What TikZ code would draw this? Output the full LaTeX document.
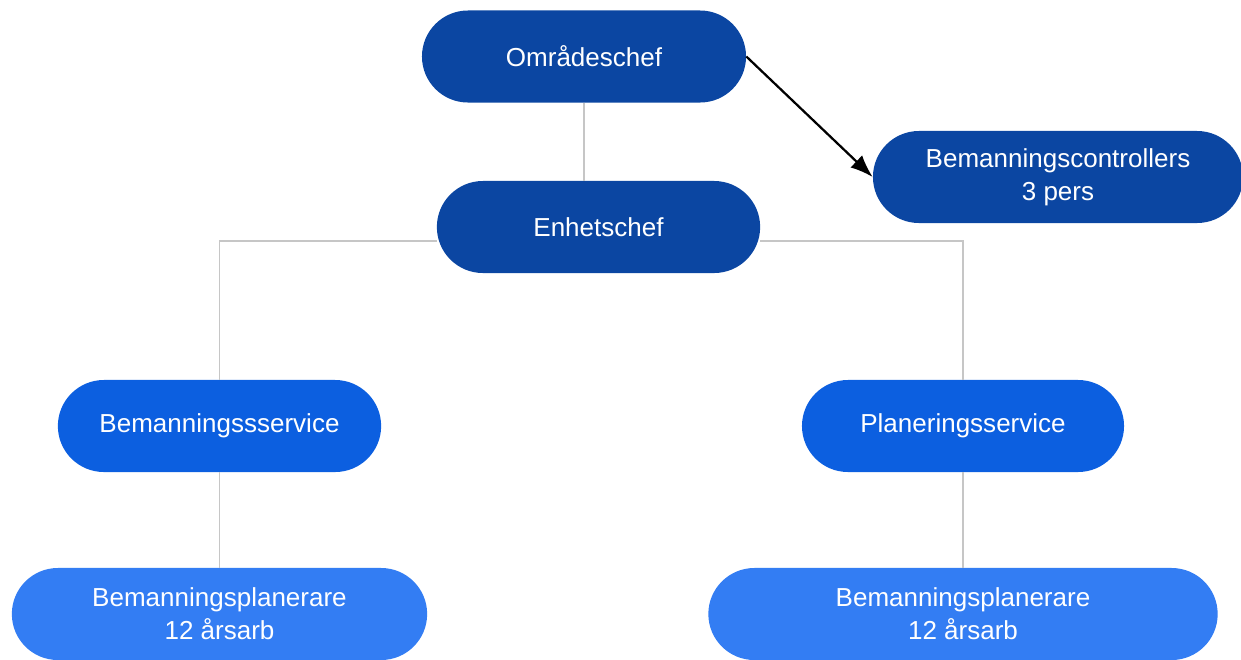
\documentclass[tikz,border=0pt]{standalone}
\usepackage{fontspec}
\setmainfont{Liberation Sans}
\usetikzlibrary{arrows.meta}

\definecolor{chefblue}{HTML}{0B46A2}
\definecolor{serviceblue}{HTML}{0C5FE0}
\definecolor{planblue}{HTML}{337DF3}
\definecolor{linegray}{HTML}{C6C6C6}

\tikzset{
  pill/.style={rectangle, rounded corners=1.15cm, minimum height=2.3cm,
    text=white, align=center, inner sep=0pt,
    font=\fontsize{18.5}{23.5}\selectfont},
  chef/.style={pill, fill=chefblue},
  service/.style={pill, fill=serviceblue},
  planner/.style={pill, fill=planblue},
  orgline/.style={draw=linegray, line width=1.4pt},
}

\begin{document}
\begin{tikzpicture}[x=0.025cm, y=-0.025cm]

        \useasboundingbox (0,0) rectangle (1241,659);

        \node[chef, minimum width=8.1cm] at (584,56.5) (omr) {Områdeschef};
        \node[chef, minimum width=8.08cm] at (598.5,227) (enh) {Enhetschef};
        \node[chef, minimum width=9.25cm] at (1058,177) (ctrl) {Bemanningscontrollers\\3 pers};

        \node[service, minimum width=8.08cm] at (219.5,426) (bss) {Bemanningssservice};
        \node[service, minimum width=8.05cm] at (963,426) (pls) {Planeringsservice};

        \node[planner, minimum width=10.38cm] at (219.5,614) (bpl) {Bemanningsplanerare\\12 årsarb};
        \node[planner, minimum width=12.73cm] at (963,614) (bpr) {Bemanningsplanerare\\12 årsarb};

        % grey org lines
        \draw[orgline] (omr.south) -- (omr.south |- enh.north);
        \draw[orgline] ([yshift=-0.35cm]enh.west) -| (bss.north);
        \draw[orgline] ([yshift=-0.35cm]enh.east) -| (pls.north);
        \draw[orgline] (bss.south) -- (bpl.north);
        \draw[orgline] (pls.south) -- (bpr.north);

        \draw[line width=1.6pt, -{Latex[length=16pt,width=12pt]}] (omr.east) -- (ctrl.west);

    \end{tikzpicture}
\end{document}
